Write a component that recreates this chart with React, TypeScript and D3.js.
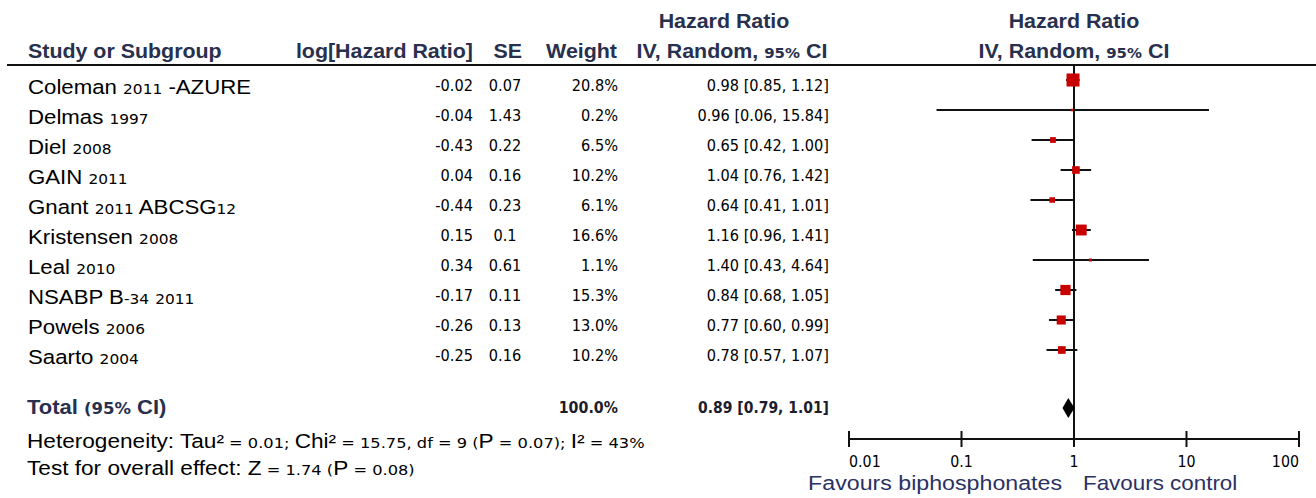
import React, { useEffect, useRef } from 'react';
import * as d3 from 'd3';

// study rows
const studyNames = [
  'Coleman 2011 -AZURE',
  'Delmas 1997',
  'Diel 2008',
  'GAIN 2011',
  'Gnant 2011 ABCSG12',
  'Kristensen 2008',
  'Leal 2010',
  'NSABP B-34 2011',
  'Powels 2006',
  'Saarto 2004',
];
const logHR = [-0.02, -0.04, -0.43, 0.04, -0.44, 0.15, 0.34, -0.17, -0.26, -0.25];
const seValues = [0.07, 1.43, 0.22, 0.16, 0.23, 0.1, 0.61, 0.11, 0.13, 0.16];
const weights = [20.8, 0.2, 6.5, 10.2, 6.1, 16.6, 1.1, 15.3, 13.0, 10.2];
const hrValues = [0.98, 0.96, 0.65, 1.04, 0.64, 1.16, 1.4, 0.84, 0.77, 0.78];
const ciLow = [0.85, 0.06, 0.42, 0.76, 0.41, 0.96, 0.43, 0.68, 0.6, 0.57];
const ciHigh = [1.12, 15.84, 1.0, 1.42, 1.01, 1.41, 4.64, 1.05, 0.99, 1.07];

// pooled result
const totalWeight = 100.0;
const totalHR = 0.89;
const totalLow = 0.79;
const totalHigh = 1.01;

// heterogeneity / overall effect
const tau2 = '0.01';
const chi2 = '15.75';
const dfHet = '9';
const pHet = '0.07';
const i2 = '43%';
const zValue = '1.74';
const pOverall = '0.08';

// axis
const axisTicks = [0.01, 0.1, 1, 10, 100];
const axisLabels = ['0.01', '0.1', '1', '10', '100'];

const BIG = '"Liberation Sans", Arial, sans-serif';
const SMALL = '"DejaVu Sans", Verdana, sans-serif';
const HEAD_COLOR = '#28304e';

type Part = [string, 'big' | 'small'];

const App: React.FC = () => {
  const svgRef = useRef<SVGSVGElement>(null);

  useEffect(() => {
    if (!svgRef.current) return;
    const svg = d3.select(svgRef.current);
    svg.selectAll('*').remove();

    const width = 1316;
    const height = 498;
    svg.attr('width', width).attr('height', height);

    svg.append('rect').attr('width', width).attr('height', height).attr('fill', '#fff');

    // writes a text with mixed big/small runs, stretched horizontally
    const addText = (
      x: number,
      y: number,
      parts: Part[],
      opts: { anchor?: string; sx?: number; bold?: boolean; fill?: string; big?: number; small?: number } = {}
    ) => {
      const t = svg.append('text')
        .attr('transform', `translate(${x},${y}) scale(${opts.sx ?? 1.16},1)`)
        .attr('text-anchor', opts.anchor ?? 'start')
        .attr('fill', opts.fill ?? '#000')
        .attr('font-weight', opts.bold ? 'bold' : 'normal')
        .style('white-space', 'pre');
      parts.forEach(([s, kind]) => {
        t.append('tspan')
          .attr('font-family', kind === 'big' ? BIG : SMALL)
          .attr('font-size', kind === 'big' ? (opts.big ?? 19.5) : (opts.small ?? 14))
          .text(s);
      });
      return t;
    };

    const splitName = (name: string): Part[] =>
      name.split(/(-?\d+)/).filter(s => s.length).map(s => [s, /\d/.test(s) ? 'small' : 'big'] as Part);

    const x = d3.scaleLog().domain([0.01, 100]).range([849, 1299]);
    const y = d3.scalePoint<number>()
      .domain(studyNames.map((_, i) => i))
      .range([80, 350]);
    const size = d3.scaleLinear().domain([0, 20.8]).range([2.5, 13]);

    const axisY = 439;
    const ruleY = 65;
    const num = { small: 15, sx: 0.97 };

    // ---- headers
    const hdr = { bold: true, fill: HEAD_COLOR, sx: 1.07, big: 20, small: 14 };
    addText(28, 58, [['Study or Subgroup', 'big']], hdr);
    addText(473, 58, [['log[Hazard Ratio]', 'big']], { ...hdr, anchor: 'end' });
    addText(522, 58, [['SE', 'big']], { ...hdr, anchor: 'end' });
    addText(617, 58, [['Weight', 'big']], { ...hdr, anchor: 'end' });
    addText(724, 28, [['Hazard Ratio', 'big']], { ...hdr, anchor: 'middle' });
    addText(732, 58, [['IV, Random, ', 'big'], ['95%', 'small'], [' CI', 'big']], { ...hdr, anchor: 'middle' });
    addText(1074, 28, [['Hazard Ratio', 'big']], { ...hdr, anchor: 'middle' });
    addText(1074, 58, [['IV, Random, ', 'big'], ['95%', 'small'], [' CI', 'big']], { ...hdr, anchor: 'middle' });

    svg.append('line')
      .attr('x1', 7).attr('x2', width)
      .attr('y1', ruleY).attr('y2', ruleY)
      .attr('stroke', '#111').attr('stroke-width', 2);

    // ---- table rows
    studyNames.forEach((name, i) => {
      const ry = y(i) as number;
      addText(28, ry + 14, splitName(name), { small: 13.5, sx: 1.14 });
      addText(473, ry + 11, [[String(logHR[i]), 'small']], { ...num, anchor: 'end' });
      addText(505, ry + 11, [[String(seValues[i]), 'small']], { ...num, anchor: 'middle' });
      addText(618, ry + 11, [[weights[i].toFixed(1) + '%', 'small']], { ...num, anchor: 'end' });
      addText(829, ry + 11, [[`${hrValues[i].toFixed(2)} [${ciLow[i].toFixed(2)}, ${ciHigh[i].toFixed(2)}]`, 'small']], { ...num, anchor: 'end' });
    });

    // total row
    addText(27, 414, [['Total ', 'big'], ['(95%', 'small'], [' CI)', 'big']], { ...hdr, sx: 1.1, big: 20, small: 15 });
    addText(618, 413, [[totalWeight.toFixed(1) + '%', 'small']], { anchor: 'end', bold: true, fill: '#1c1c2c', sx: 0.95, small: 15 });
    addText(829, 413, [[`${totalHR.toFixed(2)} [${totalLow.toFixed(2)}, ${totalHigh.toFixed(2)}]`, 'small']], { anchor: 'end', bold: true, fill: '#1c1c2c', sx: 0.93, small: 15 });

    addText(27, 448, [
      ['Heterogeneity: Tau²', 'big'], [` = ${tau2}; `, 'small'],
      ['Chi²', 'big'], [` = ${chi2}, df = ${dfHet} (`, 'small'],
      ['P', 'big'], [` = ${pHet}); `, 'small'],
      ['I²', 'big'], [` = ${i2}`, 'small'],
    ], { small: 14 });
    addText(27, 475, [
      ['Test for overall effect: Z', 'big'], [` = ${zValue} (`, 'small'],
      ['P', 'big'], [` = ${pOverall})`, 'small'],
    ], { small: 14 });

    // ---- forest plot
    svg.append('line')
      .attr('x1', x(1)).attr('x2', x(1))
      .attr('y1', ruleY).attr('y2', axisY)
      .attr('stroke', '#111').attr('stroke-width', 2);

    const rows = svg.append('g');
    studyNames.forEach((_, i) => {
      const ry = y(i) as number;
      rows.append('line')
        .attr('x1', x(ciLow[i])).attr('x2', x(ciHigh[i]))
        .attr('y1', ry).attr('y2', ry)
        .attr('stroke', '#111').attr('stroke-width', 2);
      const s = size(weights[i]);
      rows.append('rect')
        .attr('x', x(hrValues[i]) - s / 2)
        .attr('y', ry - s / 2)
        .attr('width', s).attr('height', s)
        .attr('fill', '#c80000');
    });

    // diamond
    const dy = 408;
    svg.append('path')
      .attr('d', `M${x(totalLow)},${dy} L${x(totalHR)},${dy - 10} L${x(totalHigh)},${dy} L${x(totalHR)},${dy + 10} Z`)
      .attr('fill', '#000');

    // axis
    svg.append('line')
      .attr('x1', x(0.01)).attr('x2', x(100))
      .attr('y1', axisY).attr('y2', axisY)
      .attr('stroke', '#111').attr('stroke-width', 2);
    axisTicks.forEach((t, i) => {
      svg.append('line')
        .attr('x1', x(t)).attr('x2', x(t))
        .attr('y1', axisY - 8).attr('y2', axisY + 8)
        .attr('stroke', '#111').attr('stroke-width', 2);
      const anchor = i === 0 ? 'start' : i === axisTicks.length - 1 ? 'end' : 'middle';
      addText(x(t), 467, [[axisLabels[i], 'small']], { anchor, sx: 0.95, small: 15 });
    });

    addText(1062, 490, [['Favours biphosphonates', 'big']], { anchor: 'end', fill: '#2a3163', sx: 1.16, big: 20 });
    addText(1083, 490, [['Favours control', 'big']], { fill: '#2a3163', sx: 1.12, big: 20 });
  }, []);

  return (
    <div style={{ position: 'absolute', left: 0, top: 0, background: '#fff' }}>
      <svg ref={svgRef} style={{ display: 'block' }} />
    </div>
  );
};

export default App;
